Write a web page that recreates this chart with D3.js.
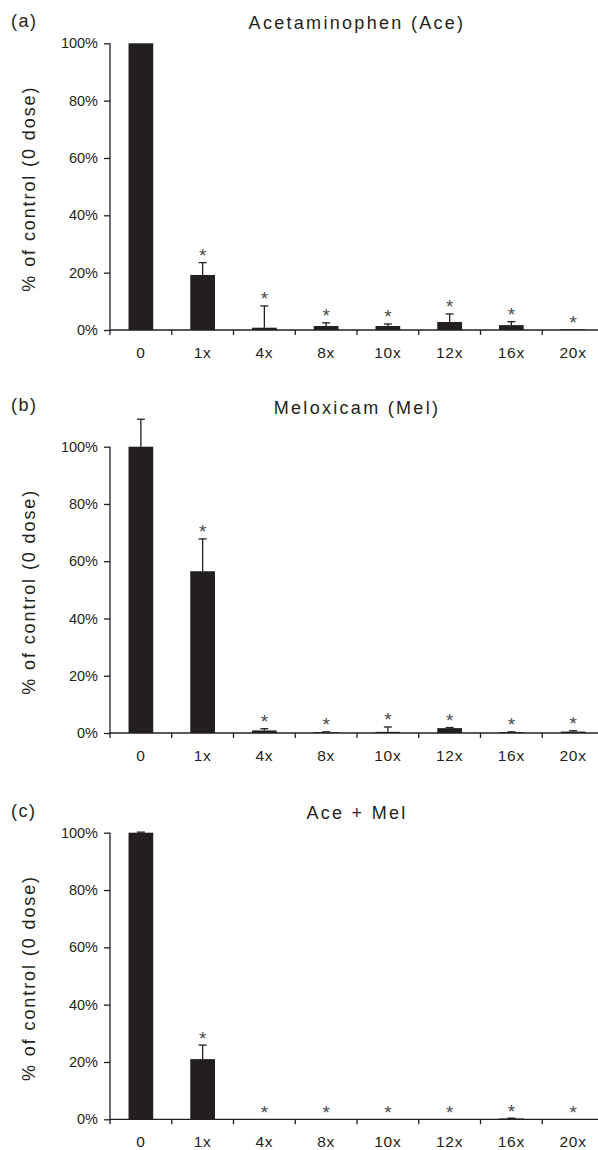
<!DOCTYPE html>
<html>
<head>
<meta charset="utf-8">
<script src="https://cdn.jsdelivr.net/npm/d3@7"></script>
<style>
  html, body { margin: 0; padding: 0; background: #fff; }
  svg { display: block; font-family: "Liberation Sans", Arial, Helvetica, sans-serif; }
</style>
</head>
<body>
<svg id="chart" width="598" height="1150"></svg>
<script>
// ---- data ----
const categories = ["0", "1x", "4x", "8x", "10x", "12x", "16x", "20x"];
const yTicks = [0, 20, 40, 60, 80, 100];

const aceMeans = [100, 19.2, 0.8, 1.4, 1.4, 2.8, 1.7, 0.2];
const aceErr   = [0, 4.3, 7.6, 1.1, 0.7, 2.8, 1.2, 0];
const aceSig   = [false, true, true, true, true, true, true, true];

const melMeans = [100, 56.5, 0.9, 0.3, 0.4, 1.7, 0.3, 0.5];
const melErr   = [9.6, 11.3, 0.6, 0.1, 1.7, 0.2, 0.1, 0.3];
const melSig   = [false, true, true, true, true, true, true, true];

const comboMeans = [100, 21.0, 0, 0, 0, 0, 0.3, 0];
const comboErr   = [0.2, 4.9, 0, 0, 0, 0, 0.1, 0];
const comboSig   = [false, true, true, true, true, true, true, true];

const panelLabels = ["(a)", "(b)", "(c)"];
const panelTitles = ["Acetaminophen (Ace)", "Meloxicam (Mel)", "Ace + Mel"];
const yLabel = "% of control (0 dose)";

// ---- layout ----
const ink = "#231f20";
const left = 110, right = 604;
const panels = [
  { means: aceMeans, err: aceErr, sig: aceSig, top: 43.3, bottom: 330, titleY: 28.5, labelY: 26.5 },
  { means: melMeans, err: melErr, sig: melSig, top: 446.7, bottom: 733, titleY: 413.5, labelY: 410.5 },
  { means: comboMeans, err: comboErr, sig: comboSig, top: 832.7, bottom: 1119.3, titleY: 818.5, labelY: 816.5 }
];

const svg = d3.select("#chart");

const x = d3.scaleBand().domain(categories).range([left, right])
  .paddingInner(0.6).paddingOuter(0.3);
const xEdge = d3.scaleLinear().domain([0, categories.length]).range([left, right]);

panels.forEach((p, i) => {
  const g = svg.append("g");
  const y = d3.scaleLinear().domain([0, 100]).range([p.bottom, p.top]);

  // panel letter
  g.append("text").attr("x", 11).attr("y", p.labelY)
    .attr("font-size", 18).attr("letter-spacing", 1.5).attr("fill", ink)
    .text(panelLabels[i]);
  // title
  g.append("text").attr("x", 357).attr("y", p.titleY)
    .attr("text-anchor", "middle")
    .attr("font-size", 18).attr("letter-spacing", 2.3).attr("fill", ink)
    .text(panelTitles[i]);
  // y label
  g.append("text")
    .attr("transform", `translate(35,${(p.top + p.bottom) / 2 + 2}) rotate(-90)`)
    .attr("text-anchor", "middle")
    .attr("font-size", 18).attr("letter-spacing", 1.9).attr("fill", ink)
    .text(yLabel);

  // bars
  const data = categories.map((c, k) => ({ c, m: p.means[k], e: p.err[k], s: p.sig[k] }));
  g.selectAll("rect.bar").data(data).enter().append("rect")
    .attr("class", "bar")
    .attr("x", d => x(d.c))
    .attr("width", x.bandwidth())
    .attr("y", d => y(d.m))
    .attr("height", d => y(0) - y(d.m))
    .attr("fill", ink);

  // error bars (upper only)
  const eb = data.filter(d => d.e > 0);
  const cx = d => x(d.c) + x.bandwidth() / 2;
  g.selectAll("line.err").data(eb).enter().append("line")
    .attr("x1", cx).attr("x2", cx)
    .attr("y1", d => y(d.m)).attr("y2", d => y(d.m + d.e))
    .attr("stroke", ink).attr("stroke-width", 1.3);
  g.selectAll("line.cap").data(eb).enter().append("line")
    .attr("x1", d => cx(d) - 4).attr("x2", d => cx(d) + 4)
    .attr("y1", d => y(d.m + d.e)).attr("y2", d => y(d.m + d.e))
    .attr("stroke", ink).attr("stroke-width", 1.3);

  // significance asterisks
  g.selectAll("text.sig").data(data.filter(d => d.s)).enter().append("text")
    .attr("x", cx)
    .attr("y", d => y(d.m + d.e) - 0.5)
    .attr("text-anchor", "middle")
    .attr("font-size", 19).attr("fill", "#4a4a4a")
    .text("*");

  // y axis
  const yAxis = d3.axisLeft(y).tickValues(yTicks).tickFormat(d => d + "%")
    .tickSize(6).tickPadding(6).tickSizeOuter(0);
  const ya = g.append("g").attr("transform", `translate(${left},0)`).call(yAxis);
  ya.select(".domain").attr("stroke", ink).attr("stroke-width", 1.3)
    .attr("d", `M0,${p.bottom + 5}V${p.top}`);
  ya.selectAll(".tick line").attr("stroke", ink).attr("stroke-width", 1.3);
  ya.selectAll(".tick text").attr("font-size", 14.5).attr("fill", ink)
    .attr("font-family", "Liberation Sans, Arial, sans-serif");

  // x axis: labels at band centers
  const xAxis = d3.axisBottom(x).tickSize(0).tickPadding(17);
  const xa = g.append("g").attr("transform", `translate(0,${p.bottom})`).call(xAxis);
  xa.select(".domain").remove();
  xa.selectAll(".tick text").attr("font-size", 15.5).attr("letter-spacing", 0.8)
    .attr("fill", ink).attr("font-family", "Liberation Sans, Arial, sans-serif");
  // x axis line & boundary ticks
  g.append("line").attr("x1", left).attr("x2", right)
    .attr("y1", p.bottom).attr("y2", p.bottom)
    .attr("stroke", ink).attr("stroke-width", 1.3);
  g.selectAll("line.xt").data(d3.range(1, categories.length + 1)).enter().append("line")
    .attr("x1", k => xEdge(k)).attr("x2", k => xEdge(k))
    .attr("y1", p.bottom).attr("y2", p.bottom + 5)
    .attr("stroke", ink).attr("stroke-width", 1.3);
});
</script>
</body>
</html>
